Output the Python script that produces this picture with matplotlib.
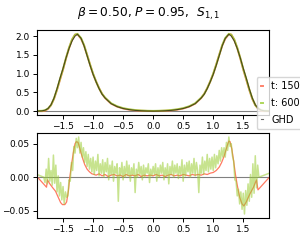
import numpy as np
import matplotlib
matplotlib.use("Agg")
import matplotlib.pyplot as plt

# top panel: density profiles
x_top = [-1.935, -1.85, -1.8, -1.75, -1.7, -1.65, -1.6, -1.55, -1.5, -1.45, -1.4, -1.35,
         -1.3, -1.26, -1.2, -1.15, -1.1, -1.05, -1.0, -0.95, -0.9, -0.85, -0.8, -0.7,
         -0.6, -0.5, -0.4, -0.3, -0.2, -0.1, 0.0, 0.1, 0.2, 0.3, 0.4, 0.5, 0.6, 0.7,
         0.8, 0.85, 0.9, 0.95, 1.0, 1.05, 1.1, 1.15, 1.2, 1.26, 1.3, 1.35, 1.4, 1.45,
         1.5, 1.55, 1.6, 1.65, 1.7, 1.75, 1.8, 1.85, 1.935]
ghd_top = [0.0, 0.008, 0.025, 0.07, 0.17, 0.35, 0.6, 0.88, 1.14, 1.42, 1.67, 1.87,
           2.0, 2.05, 1.94, 1.74, 1.48, 1.22, 0.98, 0.78, 0.6, 0.45, 0.35, 0.2,
           0.12, 0.07, 0.04, 0.02, 0.01, 0.003, 0.0, 0.003, 0.01, 0.02, 0.04, 0.07, 0.12, 0.2,
           0.35, 0.45, 0.6, 0.78, 0.98, 1.22, 1.48, 1.74, 1.94, 2.05, 2.0, 1.87, 1.67, 1.42,
           1.14, 0.88, 0.6, 0.35, 0.17, 0.07, 0.025, 0.008, 0.0]
t150_top = [0.0, 0.0, 0.01, 0.06, 0.16, 0.33, 0.57, 0.84, 1.11, 1.41, 1.68, 1.9,
            2.04, 2.05, 1.93, 1.75, 1.5, 1.24, 0.99, 0.79, 0.61, 0.46, 0.35, 0.2,
            0.12, 0.07, 0.04, 0.02, 0.01, 0.005, 0.002, 0.005, 0.01, 0.02, 0.04, 0.07, 0.12, 0.2,
            0.35, 0.46, 0.61, 0.79, 0.99, 1.24, 1.5, 1.75, 1.93, 2.05, 2.04, 1.9, 1.68, 1.41,
            1.11, 0.84, 0.57, 0.33, 0.16, 0.06, 0.01, 0.0, 0.0]
t600_top = [0.004, 0.01, 0.025, 0.07, 0.16, 0.34, 0.58, 0.86, 1.12, 1.42, 1.69, 1.91,
            2.04, 2.06, 1.95, 1.76, 1.5, 1.24, 1.0, 0.79, 0.61, 0.46, 0.36, 0.21,
            0.13, 0.08, 0.05, 0.03, 0.017, 0.01, 0.007, 0.01, 0.017, 0.03, 0.05, 0.08, 0.13, 0.21,
            0.36, 0.46, 0.61, 0.79, 1.0, 1.24, 1.5, 1.76, 1.95, 2.06, 2.04, 1.91, 1.69, 1.42,
            1.12, 0.86, 0.58, 0.34, 0.16, 0.07, 0.025, 0.01, 0.006]

# bottom panel: difference to GHD, t = 150
x_150 = [-1.935, -1.775, -1.76, -1.72, -1.67, -1.625, -1.58, -1.54, -1.51, -1.47, -1.44,
         -1.41, -1.39, -1.36, -1.33, -1.3, -1.28, -1.25, -1.23, -1.2, -1.17, -1.14,
         -1.1, -1.06, -1.02, -0.98,
         -0.95, -0.9, -0.85, -0.8, -0.75, -0.7, -0.65, -0.6, -0.55, -0.5, -0.45, -0.4,
         -0.35, -0.3, -0.25, -0.2, -0.15, -0.1, -0.05, 0.0, 0.05, 0.1, 0.15, 0.2, 0.25,
         0.3, 0.35, 0.4, 0.45, 0.5, 0.55, 0.6, 0.65, 0.7, 0.75, 0.8, 0.85, 0.9, 0.95,
         1.0, 1.05, 1.1, 1.14, 1.18, 1.21, 1.24, 1.26, 1.28, 1.31, 1.34, 1.37, 1.4,
         1.44, 1.48, 1.51, 1.55, 1.61, 1.67, 1.72, 1.745, 1.935]
d_150 = [0.001, -0.015, -0.004, -0.010, -0.016, -0.021, -0.030, -0.038, -0.041, -0.041, -0.037,
         -0.020, -0.002, 0.018, 0.036, 0.050, 0.053, 0.052, 0.046, 0.036, 0.027, 0.019,
         0.012, 0.008, 0.005, 0.004,
         0.003, 0.005, 0.002, 0.004, 0.001, 0.003, 0.004, 0.002, 0.003, 0.001, 0.004, 0.002,
         0.003, 0.002, 0.004, 0.001, 0.003, 0.002, 0.003, 0.002, 0.004, 0.002, 0.003, 0.001, 0.003,
         0.004, 0.002, 0.003, 0.002, 0.004, 0.003, 0.002, 0.004, 0.003, 0.004, 0.003, 0.005, 0.004, 0.006,
         0.007, 0.010, 0.015, 0.022, 0.031, 0.040, 0.049, 0.054, 0.053, 0.042, 0.024, 0.004, -0.012,
         -0.030, -0.040, -0.043, -0.037, -0.025, -0.015, -0.004, -0.019, 0.0]

# bottom panel: difference to GHD, t = 600 (x from -1.82 to 1.76 in steps of 0.02, plus ends)
d_600 = [
    0.000, -0.008, 0.012, -0.010, 0.028, -0.006, 0.010, -0.012, 0.033, -0.009,
    0.018, -0.022, 0.002, -0.028, -0.008, -0.034, -0.014, -0.040, -0.022, -0.030,
    -0.028, -0.004, -0.006, 0.022, 0.010, 0.046, 0.036, 0.058, 0.044, 0.060,
    0.036, 0.052, 0.030, 0.044, 0.022, 0.038, 0.016, 0.034, 0.012, 0.028,
    0.008, 0.030, 0.004, 0.024, 0.010, 0.034, 0.002, 0.020, 0.006, 0.026,
    0.000, 0.022, 0.008, 0.028, -0.004, 0.018, 0.004, 0.024, -0.006, 0.016,
    0.006, 0.020, -0.036, 0.014, 0.002, 0.022, -0.004, 0.016, 0.000, 0.024,
    0.002, 0.018, -0.006, 0.014, 0.004, 0.020, -0.023, 0.012, 0.000, 0.022,
    0.004, 0.016, -0.004, 0.018, 0.000, 0.014, 0.006, 0.020, -0.008, 0.012,
    0.002, 0.016, 0.004, 0.020, -0.006, 0.014, 0.000, 0.018, 0.006, 0.022,
    -0.004, 0.014, 0.002, 0.020, -0.010, 0.016, 0.004, 0.024, 0.000, 0.018,
    0.006, 0.020, -0.002, 0.016, 0.004, 0.026, -0.006, 0.018, 0.002, 0.022,
    0.008, 0.024, 0.000, 0.020, 0.006, 0.028, 0.002, 0.022, 0.010, -0.023,
    0.018, 0.006, 0.030, 0.004, 0.024, 0.010, 0.034, 0.008, 0.028, 0.012,
    0.030, 0.010, 0.034, 0.014, 0.032, 0.020, 0.040, 0.024, 0.044, 0.030,
    0.044, 0.030, 0.052, 0.040, 0.060, 0.046, 0.050, 0.032, 0.024, -0.004,
    -0.006, -0.028, -0.018, -0.040, -0.022, -0.048, -0.024, -0.055, -0.020, -0.042,
    -0.010, -0.036, 0.004, -0.030, 0.020, -0.024, 0.032, -0.016, 0.018, 0.000,
]
x_600 = [-1.935] + list(np.round(np.arange(-1.82, 1.7601, 0.02), 2)) + [1.935]
d_600 = [0.004] + d_600 + [0.006]

c150 = "tomato"
c600 = "yellowgreen"

fig = plt.figure(figsize=(3, 2.5), dpi=100)
ax1 = fig.add_axes([0.123, 0.54, 0.775, 0.34])
ax2 = fig.add_axes([0.123, 0.128, 0.775, 0.34])

ax1.axhline(0, color="gray", lw=0.8)
ax1.plot(x_top, t150_top, color=c150, lw=1.4, alpha=0.8, label="t: 150")
ax1.plot(x_top, t600_top, color=c600, lw=1.4, alpha=0.8, label="t: 600")
ax1.plot(x_top, ghd_top, color="black", lw=0.8, alpha=0.6, label="GHD")

ax2.axhline(0, color="gray", lw=0.8)
ax2.plot(x_150, d_150, color=c150, lw=0.9, alpha=0.85)
ax2.plot(x_600, d_600, color=c600, lw=1.1, alpha=0.55)

for ax in (ax1, ax2):
    ax.set_xlim(-1.935, 1.935)
    ax.set_xticks([-1.5, -1.0, -0.5, 0.0, 0.5, 1.0, 1.5])
    ax.tick_params(labelsize=6.5, length=3, width=0.7, pad=2)
ax1.set_yticks([0.0, 0.5, 1.0, 1.5, 2.0])
ax2.set_ylim(-0.061, 0.066)
ax2.set_yticks([-0.05, 0.0, 0.05])

fig.suptitle(r"$\beta = 0.50$, $P = 0.95$,  $S_{1,1}$", fontsize=8.8, x=0.497, y=0.978)

fig.legend(loc="upper left", bbox_to_anchor=(0.855, 0.693), fontsize=7,
           handlelength=0.25, handletextpad=0.8, borderpad=0.45, labelspacing=0.7,
           borderaxespad=0)

fig.savefig("out.png", dpi=100)
